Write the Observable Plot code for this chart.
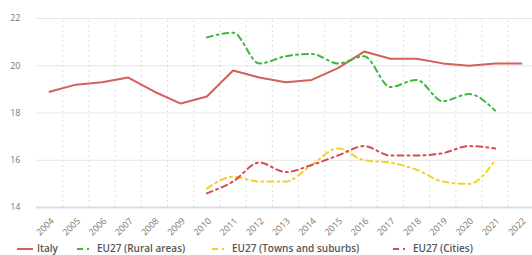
<!DOCTYPE html>
<html>
<head>
<meta charset="utf-8">
<script src="https://cdn.jsdelivr.net/npm/d3@7"></script>
<script src="https://cdn.jsdelivr.net/npm/@observablehq/plot@0.6"></script>
<style>
  html, body { margin: 0; padding: 0; background: #fff; overflow: hidden; }
  #wrap { position: relative; width: 532px; height: 255px; font-family: "Open Sans", "DejaVu Sans", sans-serif; }
  #legend { position: absolute; left: 0; top: 242px; width: 532px; height: 13px; font-size: 10px; color: #555; font-weight: 600; }
  .item { position: absolute; top: 0; height: 13px; line-height: 13px; white-space: nowrap; }
  .item svg { vertical-align: middle; margin-right: 4px; }
</style>
</head>
<body>
<div id="wrap">
  <div id="chart"></div>
  <div id="legend"></div>
</div>
<script>
const years = [2004,2005,2006,2007,2008,2009,2010,2011,2012,2013,2014,2015,2016,2017,2018,2019,2020,2021,2022];
const italy = [18.9,19.2,19.3,19.5,18.9,18.4,18.7,19.8,19.5,19.3,19.4,19.9,20.6,20.3,20.3,20.1,20.0,20.1,20.1];
const ruralYears = [2010,2011,2012,2013,2014,2015,2016,2017,2018,2019,2020,2021];
const rural = [21.2,21.4,20.1,20.4,20.5,20.1,20.4,19.1,19.4,18.5,18.8,18.1];
const towns = [14.8,15.3,15.1,15.1,15.8,16.5,16.0,15.9,15.6,15.1,15.0,16.0];
const cities = [14.6,15.1,15.9,15.5,15.8,16.2,16.6,16.2,16.2,16.3,16.6,16.5];
const yTicks = [14,16,18,20,22];
const seriesNames = ["Italy","EU27 (Rural areas)","EU27 (Towns and suburbs)","EU27 (Cities)"];
const seriesColors = ["#d4605a","#3db83d","#f5cf2a","#d84a52"];
const seriesDash = [null,"6,4,2,4","6,4,2,4","6,4,2,4"];

const italyData = years.map((y,i) => ({year: y, value: italy[i]}));
const ruralData = ruralYears.map((y,i) => ({year: y, value: rural[i]}));
const townsData = ruralYears.map((y,i) => ({year: y, value: towns[i]}));
const citiesData = ruralYears.map((y,i) => ({year: y, value: cities[i]}));
const bounds = years.slice(1).map(y => y - 0.5);

const plot = Plot.plot({
  width: 532,
  height: 242,
  marginTop: 18,
  marginBottom: 35,
  marginLeft: 36,
  marginRight: 0,
  style: {fontFamily: "'Open Sans', 'DejaVu Sans', sans-serif", fontSize: "9px", color: "#666", background: "#fff", overflow: "visible"},
  x: {domain: [years[0] - 0.5, years[years.length-1] + 0.5], range: [36, 534], axis: null},
  y: {domain: [14, 22], axis: null},
  marks: [
    Plot.ruleY(yTicks.filter(v => v > 14), {stroke: "#e6e6e6", strokeWidth: 1}),
    Plot.ruleX(bounds, {y1: 14, y2: 22, stroke: "#ddd", strokeDasharray: "2,3", strokeWidth: 1}),
    Plot.ruleY([14], {stroke: "#d8dee9", strokeWidth: 2}),
    Plot.text(yTicks, {x: years[0] - 0.5, y: d => d, text: d => String(d), dx: -16, textAnchor: "end", fill: "#777", fontSize: 9}),
    Plot.text(years, {x: d => d, y: 14, text: d => String(d), rotate: -45, textAnchor: "end", dx: 3, dy: 12, fill: "#777", fontSize: 9}),
    Plot.line(italyData, {x: "year", y: "value", stroke: seriesColors[0], strokeWidth: 2}),
    Plot.line(ruralData, {x: "year", y: "value", stroke: seriesColors[1], strokeWidth: 2, strokeDasharray: seriesDash[1], curve: "monotone-x"}),
    Plot.line(townsData, {x: "year", y: "value", stroke: seriesColors[2], strokeWidth: 2, strokeDasharray: seriesDash[2], curve: "monotone-x"}),
    Plot.line(citiesData, {x: "year", y: "value", stroke: seriesColors[3], strokeWidth: 2, strokeDasharray: seriesDash[3], curve: "monotone-x"})
  ]
});
document.getElementById("chart").appendChild(plot);

const legendX = [17, 77, 212, 393];
const legend = document.getElementById("legend");
seriesNames.forEach((name, i) => {
  const div = document.createElement("div");
  div.className = "item";
  div.style.left = legendX[i] + "px";
  const dash = seriesDash[i] ? ` stroke-dasharray="${seriesDash[i]}"` : "";
  div.innerHTML = `<svg width="16" height="4"><line x1="0" y1="2" x2="16" y2="2" stroke="${seriesColors[i]}" stroke-width="2"${dash}/></svg>${name}`;
  legend.appendChild(div);
});
</script>
</body>
</html>
